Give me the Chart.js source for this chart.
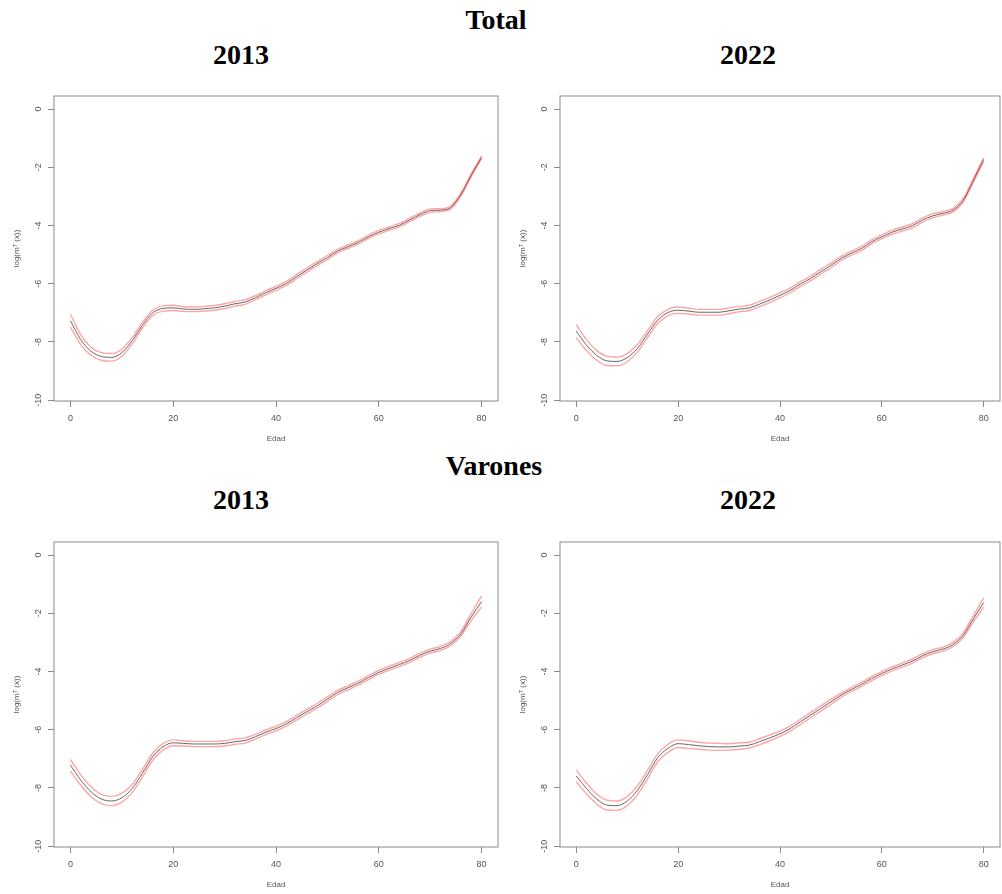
<!DOCTYPE html>
<html lang="es">
<head>
<meta charset="utf-8">
<title>log(m(x)) por edad — Total y Varones, 2013 y 2022</title>
<script src="https://cdn.jsdelivr.net/npm/chart.js@4.4.1/dist/chart.umd.min.js"></script>
<style>
  html, body { margin: 0; padding: 0; background: #fff; overflow: hidden; }
  body { width: 1002px; height: 894px; position: relative; font-family: 'Liberation Serif', 'Times New Roman', serif; }
  .ttl { position: absolute; width: 200px; text-align: center; font-weight: bold; font-size: 28px; line-height: 28px; color: #000; }
  canvas { position: absolute; }
</style>
</head>
<body>
<div class="ttl" style="left:396px; top:6px;">Total</div>
<div class="ttl" style="left:141px; top:41px;">2013</div>
<div class="ttl" style="left:648px; top:41px;">2022</div>
<div class="ttl" style="left:394px; top:452px;">Varones</div>
<div class="ttl" style="left:141px; top:486px;">2013</div>
<div class="ttl" style="left:648px; top:486px;">2022</div>

<canvas id="cTot13" width="510" height="366" style="left:0; top:80px;"></canvas>
<canvas id="cTot22" width="496" height="366" style="left:506px; top:80px;"></canvas>
<canvas id="cVar13" width="510" height="366" style="left:0; top:526px;"></canvas>
<canvas id="cVar22" width="496" height="366" style="left:506px; top:526px;"></canvas>

<script>
// ── Datos ───────────────────────────────────────────────────────────────
const AGES = [0, 2, 4, 6, 8, 10, 12, 14, 16, 18, 20, 22, 24, 26, 28, 30, 32, 34, 36, 38, 40,
              42, 44, 46, 48, 50, 52, 54, 56, 58, 60, 62, 64, 66, 68, 70, 72, 74, 76, 78, 80];
const X_TICKS = [0, 20, 40, 60, 80];
const Y_TICKS = [0, -2, -4, -6, -8, -10];

// Total 2013
const TOT13_UP  = [-7.05, -7.75, -8.18, -8.37, -8.40, -8.25, -7.85, -7.33, -6.91, -6.76, -6.74, -6.79, -6.80, -6.78, -6.75, -6.69, -6.61, -6.55, -6.41, -6.24, -6.09,
                   -5.92, -5.69, -5.46, -5.24, -5.03, -4.82, -4.67, -4.52, -4.33, -4.17, -4.05, -3.93, -3.75, -3.57, -3.43, -3.42, -3.33, -2.88, -2.22, -1.61];
const TOT13_MID = [-7.27, -7.92, -8.32, -8.50, -8.53, -8.37, -7.96, -7.43, -7.00, -6.85, -6.83, -6.87, -6.88, -6.86, -6.83, -6.77, -6.69, -6.63, -6.48, -6.31, -6.16,
                   -5.99, -5.76, -5.53, -5.31, -5.10, -4.88, -4.73, -4.58, -4.39, -4.23, -4.11, -3.99, -3.81, -3.63, -3.49, -3.47, -3.38, -2.93, -2.27, -1.66];
const TOT13_LOW = [-7.49, -8.09, -8.46, -8.63, -8.66, -8.49, -8.07, -7.53, -7.09, -6.94, -6.92, -6.95, -6.96, -6.94, -6.91, -6.85, -6.77, -6.71, -6.55, -6.38, -6.23,
                   -6.06, -5.83, -5.60, -5.38, -5.17, -4.94, -4.79, -4.64, -4.45, -4.29, -4.17, -4.05, -3.87, -3.69, -3.55, -3.52, -3.43, -2.98, -2.32, -1.71];

// Total 2022
const TOT22_UP  = [-7.41, -7.92, -8.29, -8.49, -8.52, -8.40, -8.09, -7.61, -7.13, -6.88, -6.80, -6.84, -6.88, -6.88, -6.88, -6.83, -6.78, -6.74, -6.61, -6.47, -6.31,
                   -6.15, -5.93, -5.74, -5.51, -5.29, -5.06, -4.88, -4.72, -4.49, -4.32, -4.16, -4.05, -3.94, -3.74, -3.60, -3.52, -3.41, -3.07, -2.38, -1.67];
const TOT22_MID = [-7.63, -8.11, -8.46, -8.65, -8.67, -8.54, -8.22, -7.73, -7.25, -6.99, -6.91, -6.94, -6.98, -6.98, -6.98, -6.93, -6.87, -6.83, -6.70, -6.56, -6.40,
                   -6.23, -6.01, -5.82, -5.59, -5.37, -5.13, -4.95, -4.79, -4.56, -4.39, -4.23, -4.12, -4.01, -3.81, -3.67, -3.58, -3.47, -3.13, -2.44, -1.73];
const TOT22_LOW = [-7.85, -8.30, -8.63, -8.81, -8.82, -8.68, -8.35, -7.85, -7.37, -7.10, -7.02, -7.04, -7.08, -7.08, -7.08, -7.03, -6.96, -6.92, -6.79, -6.65, -6.49,
                   -6.31, -6.09, -5.90, -5.67, -5.45, -5.20, -5.02, -4.86, -4.63, -4.46, -4.30, -4.19, -4.08, -3.88, -3.74, -3.64, -3.53, -3.19, -2.50, -1.79];

// Varones 2013
const VAR13_UP  = [-7.02, -7.55, -7.96, -8.22, -8.29, -8.19, -7.88, -7.37, -6.81, -6.48, -6.35, -6.38, -6.40, -6.40, -6.40, -6.38, -6.32, -6.28, -6.16, -6.01, -5.88,
                   -5.72, -5.51, -5.30, -5.10, -4.87, -4.65, -4.49, -4.33, -4.14, -3.96, -3.82, -3.69, -3.55, -3.37, -3.23, -3.14, -2.96, -2.62, -2.00, -1.41];
const VAR13_MID = [-7.22, -7.73, -8.13, -8.38, -8.45, -8.34, -8.02, -7.50, -6.93, -6.59, -6.45, -6.47, -6.49, -6.49, -6.49, -6.47, -6.41, -6.37, -6.24, -6.09, -5.96,
                   -5.80, -5.59, -5.38, -5.18, -4.95, -4.72, -4.56, -4.40, -4.21, -4.03, -3.89, -3.76, -3.62, -3.44, -3.30, -3.21, -3.03, -2.70, -2.12, -1.60];
const VAR13_LOW = [-7.42, -7.91, -8.30, -8.54, -8.61, -8.49, -8.16, -7.63, -7.05, -6.70, -6.55, -6.56, -6.58, -6.58, -6.58, -6.56, -6.50, -6.46, -6.32, -6.17, -6.04,
                   -5.88, -5.67, -5.46, -5.26, -5.03, -4.79, -4.63, -4.47, -4.28, -4.10, -3.96, -3.83, -3.69, -3.51, -3.37, -3.28, -3.10, -2.78, -2.24, -1.79];

// Varones 2022
const VAR22_UP  = [-7.39, -7.84, -8.21, -8.42, -8.45, -8.29, -7.93, -7.39, -6.82, -6.50, -6.35, -6.38, -6.43, -6.46, -6.47, -6.48, -6.45, -6.43, -6.31, -6.18, -6.05,
                   -5.87, -5.64, -5.41, -5.18, -4.95, -4.74, -4.55, -4.37, -4.17, -4.00, -3.84, -3.71, -3.57, -3.39, -3.25, -3.16, -3.00, -2.67, -2.07, -1.47];
const VAR22_MID = [-7.59, -8.02, -8.38, -8.59, -8.61, -8.45, -8.08, -7.54, -6.96, -6.64, -6.48, -6.51, -6.55, -6.58, -6.59, -6.59, -6.56, -6.53, -6.41, -6.28, -6.14,
                   -5.96, -5.73, -5.50, -5.27, -5.04, -4.81, -4.62, -4.44, -4.24, -4.07, -3.91, -3.78, -3.64, -3.46, -3.32, -3.23, -3.07, -2.75, -2.18, -1.63];
const VAR22_LOW = [-7.79, -8.20, -8.55, -8.76, -8.77, -8.61, -8.23, -7.69, -7.10, -6.78, -6.61, -6.64, -6.67, -6.70, -6.71, -6.70, -6.67, -6.63, -6.51, -6.38, -6.23,
                   -6.05, -5.82, -5.59, -5.36, -5.13, -4.88, -4.69, -4.51, -4.31, -4.14, -3.98, -3.85, -3.71, -3.53, -3.39, -3.30, -3.14, -2.83, -2.29, -1.79];

// ── Estilo ──────────────────────────────────────────────────────────────
const C = {
    mid:  '#666666',
    band: 'rgba(255,40,40,0.42)',
    axis: '#8a8a8a',
    text: '#555555'
};
const AXIS_FONT = { family: "'Liberation Sans', Arial, sans-serif", size: 9 };
const TITLE_FONT = { family: "'Liberation Sans', Arial, sans-serif", size: 8 };

// marco completo alrededor del área de trazado (como box() en R)
const boxPlugin = {
    id: 'rBox',
    afterDatasetsDraw(chart) {
        const { ctx, chartArea: a } = chart;
        ctx.save();
        ctx.strokeStyle = C.axis;
        ctx.lineWidth = 1;
        ctx.strokeRect(a.left, a.top, a.right - a.left, a.bottom - a.top);
        ctx.restore();
    }
};

function pts(arr) {
    return AGES.map((a, i) => ({ x: a, y: arr[i] }));
}

function renderPanel(id, up, mid, low, padRight) {
    const canvas = document.getElementById(id);
    if (!canvas) return;
    new Chart(canvas, {
        type: 'line',
        data: {
            datasets: [
                { data: pts(up),  borderColor: C.band, borderWidth: 1.4, order: 1 },
                { data: pts(low), borderColor: C.band, borderWidth: 1.4, order: 1 },
                { data: pts(mid), borderColor: C.mid,  borderWidth: 1,   order: 2 }
            ]
        },
        options: {
            responsive: false, animation: false, devicePixelRatio: 1,
            layout: { padding: { top: 16, right: padRight, bottom: 0, left: 0 } },
            elements: {
                point: { radius: 0, hoverRadius: 0 },
                line: { cubicInterpolationMode: 'monotone', fill: false }
            },
            plugins: { legend: { display: false }, tooltip: { enabled: false } },
            scales: {
                x: {
                    type: 'linear', min: -3.2, max: 83.2,
                    afterBuildTicks: s => { s.ticks = X_TICKS.map(v => ({ value: v })); },
                    afterFit: s => { s.height = 45; },
                    grid: { drawOnChartArea: false, drawTicks: true, tickLength: 6, color: C.axis },
                    border: { display: false },
                    ticks: { color: C.text, font: AXIS_FONT, padding: 6, autoSkip: false, maxRotation: 0, callback: v => String(v) },
                    title: { display: true, text: 'Edad', color: C.text, font: TITLE_FONT, padding: { top: 0, bottom: 2 } }
                },
                y: {
                    type: 'linear', min: -10.03, max: 0.45,
                    afterBuildTicks: s => { s.ticks = Y_TICKS.map(v => ({ value: v })); },
                    afterFit: s => { s.width = 54; },
                    grid: { drawOnChartArea: false, drawTicks: true, tickLength: 6, color: C.axis },
                    border: { display: false },
                    ticks: { color: C.text, font: AXIS_FONT, padding: 3, autoSkip: false, minRotation: 90, maxRotation: 90, crossAlign: 'center', callback: v => String(v) },
                    title: { display: true, text: 'log(mᵀ (x))', color: C.text, font: TITLE_FONT, padding: { top: 12, bottom: 0 } }
                }
            }
        },
        plugins: [boxPlugin]
    });
}

renderPanel('cTot13', TOT13_UP, TOT13_MID, TOT13_LOW, 12);
renderPanel('cTot22', TOT22_UP, TOT22_MID, TOT22_LOW, 2);
renderPanel('cVar13', VAR13_UP, VAR13_MID, VAR13_LOW, 12);
renderPanel('cVar22', VAR22_UP, VAR22_MID, VAR22_LOW, 2);
</script>
</body>
</html>
